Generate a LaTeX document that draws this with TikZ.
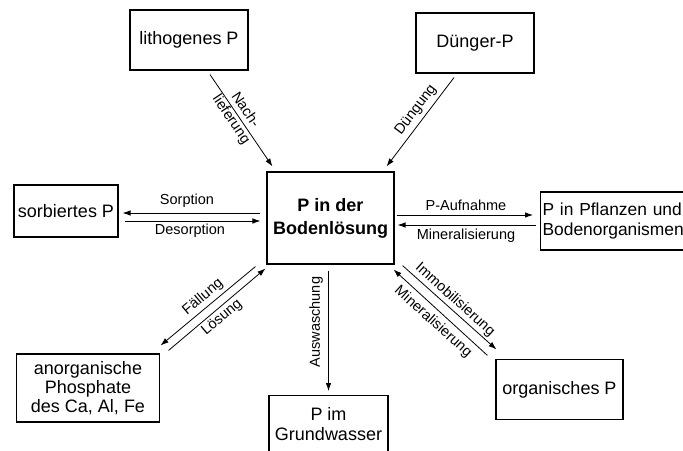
\documentclass[tikz,border=0pt]{standalone}
\usepackage{fontspec}
\setmainfont{Liberation Sans}
\usetikzlibrary{arrows.meta,calc}
\begin{document}
\begin{tikzpicture}[x=1pt,y=-1pt,
  box/.style={draw, line width=1.1pt, inner sep=2pt, align=center,
    font=\fontsize{18}{20}\selectfont},
  lbl/.style={inner sep=0pt, align=center, font=\fontsize{14.5}{17}\selectfont},
  arr/.style={line width=0.8pt, -{Latex[length=8pt,width=5.5pt]}}]
\clip (0,0) rectangle (683,450);
\fill[white] (0,0) rectangle (683,450);
% boxes
\node[box, minimum width=118, minimum height=60] (lith) at (189,40) {lithogenes P};
\node[box, minimum width=118, minimum height=60] (dung) at (475,43) {Dünger-P};
\node[box, minimum width=127, minimum height=92,
  font=\bfseries\fontsize{18}{23}\selectfont] (ctr) at (330.5,218) {P in der\\Bodenlösung};
\node[box, minimum width=104, minimum height=52] (sorb) at (66,211) {sorbiertes P};
\node[box, anchor=west, text width=150, align=left, minimum height=58,
  font=\fontsize{17.4}{20}\selectfont] (pfl) at (540,221)
  {P in Pflanzen und\\Bodenorganismen};
\node[box, minimum width=143, minimum height=68, font=\fontsize{18}{19}\selectfont]
  (anorg) at (88,388) {anorganische\\Phosphate\\des Ca, Al, Fe};
\node[box, anchor=north, minimum width=119, minimum height=58,
  font=\fontsize{18}{20}\selectfont] (grund) at (328.5,395) {P im\\Grundwasser};
\node[box, minimum width=127, minimum height=60] (org) at (559.5,389.5) {organisches P};
% connectors
\draw[arr] ($(lith.south)+(21,4)$) -- ($(ctr.north west)+(6,-5)$);
\draw[arr] ($(dung.south)+(-21,4)$) -- ($(ctr.north east)+(-8,-5)$);
\draw[arr] ($(ctr.west)+(-6,-5)$) -- ($(sorb.east)+(4,2)$);
\draw[arr] ($(sorb.east)+(6,10)$) -- ($(ctr.west)+(-6,3)$);
\draw[arr] ($(ctr.east)+(2,-3)$) -- ($(pfl.west)+(-7,-6)$);
\draw[arr] ($(pfl.west)+(-4,4)$) -- ($(ctr.east)+(3,7)$);
\draw[arr] ($(ctr.south west)+(-11,2)$) -- ($(anorg.north east)+(0.5,-8)$);
\draw[arr] ($(anorg.north east)+(8.5,-3)$) -- ($(ctr.south west)+(-1,4)$);
\draw[arr] ($(ctr.south)+(-2,6)$) -- ($(grund.north)+(0,-4)$);
\draw[arr] ($(ctr.south east)+(8,1)$) -- ($(org.north west)+(1,-9.5)$);
\draw[arr] ($(org.north west)+(-8,-3.5)$) -- ($(ctr.south east)+(-1,5)$);
% labels
\node[lbl, rotate=-56] (lnach) at (238,115) {Nach-\\lieferung};
\node[lbl, rotate=53] (ldung) at (416,110) {Düngung};
\node[lbl] (lsorp) at (187,201) {Sorption};
\node[lbl] (ldes) at (190,231) {Desorption};
\node[lbl] (lauf) at (466,205) {P-Aufnahme};
\node[lbl] (lmin) at (466,236) {Mineralisierung};
\node[lbl, rotate=40] (lfal) at (203,297) {Fällung};
\node[lbl, rotate=40] (llos) at (222,318) {Lösung};
\node[lbl, rotate=90] (laus) at (316,322) {Auswaschung};
\node[lbl, rotate=-42] (limm) at (455,300) {Immobilisierung};
\node[lbl, rotate=-42] (lmin2) at (433,322) {Mineralisierung};
\end{tikzpicture}
\end{document}
